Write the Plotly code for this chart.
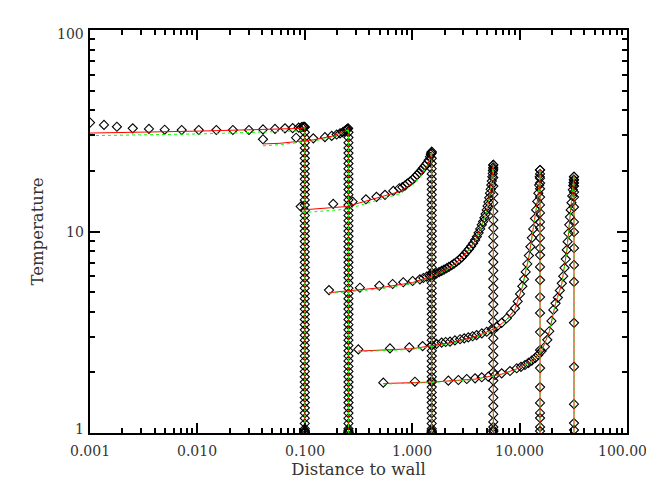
import plotly.graph_objects as go

# ---------------- data ----------------
# profile 1
p1_x = [0.001, 0.00135, 0.00178, 0.0025, 0.00354, 0.00496, 0.00714, 0.0103, 0.015, 0.0214,
        0.0302, 0.0408, 0.0528, 0.0654, 0.0771, 0.0877, 0.0935, 0.0965, 0.0985, 0.0995]
p1_T = [34.7, 33.8, 33.1, 32.5, 32.3, 32.0, 31.9, 31.9, 31.9, 31.9,
        31.9, 32.1, 32.3, 32.5, 32.6, 32.8, 33.0, 33.1, 33.1, 33.0]
# profile 2
p2_x = [0.0408, 0.083, 0.12, 0.154, 0.178, 0.198, 0.213, 0.225, 0.234, 0.241, 0.246, 0.25, 0.253]
p2_T = [28.7, 29.2, 29.0, 29.4, 29.8, 30.3, 30.7, 31.1, 31.5, 31.8, 32.1, 32.3, 32.5]
# profile 3
p3_x = [0.0916, 0.184, 0.279, 0.371, 0.465, 0.558, 0.667, 0.759, 0.81, 0.857, 0.9, 0.955, 1.01,
        1.06, 1.11, 1.165, 1.21, 1.253, 1.31, 1.365, 1.42, 1.466, 1.49, 1.51, 1.52]
p3_T = [13.3, 13.7, 14.06, 14.45, 14.86, 15.2, 15.9, 16.4, 16.6, 16.9, 17.3, 17.7, 18.1,
        18.6, 19.1, 19.6, 20.1, 20.6, 21.2, 21.8, 22.6, 23.5, 24.2, 24.6, 24.9]
# profile 4
p4_x = [0.168, 0.326, 0.494, 0.658, 0.826, 1.01, 1.18, 1.27, 1.365, 1.45, 1.52, 1.6, 1.69, 1.78,
        1.88, 1.98, 2.09, 2.2, 2.33, 2.45, 2.59, 2.74, 2.9, 3.05, 3.22, 3.38, 3.53, 3.69, 3.85,
        4.0, 4.15, 4.3, 4.44, 4.57, 4.7, 4.82, 4.94, 5.03, 5.12, 5.21, 5.30, 5.38, 5.45, 5.51,
        5.57, 5.62, 5.65, 5.68, 5.69]
p4_T = [5.12, 5.26, 5.38, 5.49, 5.60, 5.68, 5.79, 5.88, 5.97, 6.02, 6.08, 6.14, 6.20, 6.29,
        6.38, 6.47, 6.57, 6.68, 6.80, 6.93, 7.08, 7.25, 7.45, 7.68, 7.94, 8.18, 8.45, 8.74, 9.07,
        9.43, 9.85, 10.3, 10.8, 11.2, 11.7, 12.2, 12.8, 13.4, 14.0, 14.7, 15.5, 16.2, 17.0, 17.8,
        18.7, 19.4, 20.0, 20.8, 21.4]
# profile 5
p5_x = [0.315, 0.621, 0.94, 1.25, 1.52, 1.68, 1.88, 2.05, 2.25, 2.5, 2.79, 3.05, 3.33, 3.65,
        3.98, 4.45, 4.94, 5.5, 6.12, 6.8, 7.59, 8.3, 9.06, 9.6, 10.1, 10.6, 11.0, 11.4, 11.8,
        12.2, 12.6, 13.0, 13.4, 13.9, 14.25, 14.6, 14.95, 15.2, 15.4, 15.5]
p5_T = [2.60, 2.63, 2.66, 2.70, 2.73, 2.77, 2.81, 2.83, 2.84, 2.88, 2.92, 2.95, 2.98, 3.02,
        3.06, 3.12, 3.18, 3.27, 3.37, 3.52, 3.71, 3.93, 4.16, 4.5, 4.9, 5.35, 5.8, 6.3, 6.9,
        7.6, 8.4, 9.3, 10.3, 11.6, 12.8, 14.1, 15.5, 17.0, 18.7, 20.2]
# profile 6
p6_x = [0.538, 1.06, 1.52, 2.17, 2.69, 3.22, 3.85, 4.44, 5.11, 5.90, 6.81, 8.14, 9.40, 10.3,
        11.22, 12.1, 12.97, 14.0, 14.93, 16.0, 17.24, 18.1, 18.9, 19.8, 20.6, 21.6, 22.7, 23.7,
        24.7, 25.5, 26.2, 26.9, 27.5, 28.0, 28.5, 29.0, 29.4, 29.9, 30.4, 30.9, 31.3, 31.6,
        31.8, 32.0, 32.1]
p6_T = [1.777, 1.797, 1.811, 1.818, 1.832, 1.853, 1.868, 1.89, 1.903, 1.94, 1.978, 2.03, 2.095,
        2.13, 2.175, 2.23, 2.285, 2.36, 2.44, 2.55, 2.68, 2.9, 3.2, 3.6, 4.08, 4.4, 4.7, 5.1,
        5.53, 6.0, 6.6, 7.3, 8.1, 8.9, 9.8, 10.8, 11.8, 12.8, 13.9, 15.0, 16.1, 16.9,
        17.5, 18.1, 18.7]

# positions of the vertical drops
wall_x = [0.1, 0.255, 1.52, 5.69, 15.5, 32.1]

# temperatures of the diamonds stacked on each vertical drop
col_dense_T = [32.96, 31.06, 29.27, 27.58, 25.99, 24.49, 23.08, 21.75, 20.49, 19.31, 18.20,
               17.15, 16.16, 15.23, 14.35, 13.52, 12.74, 12.01, 11.31, 10.66, 10.05, 9.47,
               8.92, 8.41, 7.92, 7.46, 7.03, 6.63, 6.25, 5.89, 5.55, 5.23, 4.92, 4.64, 4.37,
               4.12, 3.88, 3.66, 3.45, 3.25, 3.06, 2.89, 2.72, 2.56, 2.41, 2.28, 2.14, 2.02,
               1.90, 1.79, 1.69, 1.59, 1.50, 1.415, 1.333, 1.256, 1.184, 1.115, 1.051, 1.03,
               1.015, 1.008, 1.003]
col4_T = [21.4, 20.4, 18.5, 16.8, 15.3, 13.9, 12.6, 11.4, 10.4, 9.42, 8.55, 7.76, 7.05, 6.40,
          5.81, 5.27, 4.79, 4.35, 3.94, 3.58, 3.25, 2.95, 2.68, 2.43, 2.21, 2.00, 1.82, 1.65,
          1.50, 1.36, 1.24, 1.135, 1.07, 1.035, 1.016]
col5_T = [20.2, 19.3, 18.4, 17.4, 16.3, 14.83, 13.54, 12.36, 11.15, 10.41, 9.29, 8.28, 7.64,
          6.67, 5.74, 4.73, 3.94, 3.17, 2.58, 2.10, 1.69, 1.41, 1.257, 1.187, 1.071, 1.023]
col6_T = [18.7, 18.0, 17.4, 16.8, 15.7, 14.83, 13.23, 11.15, 9.94, 8.28, 6.82, 5.62, 3.52,
          2.13, 1.39, 1.12, 1.035]

# model curves (red solid) and second model (green dotted)
red1_x = [0.001, 0.0105, 0.0955, 0.1];          red1_T = [30.8, 31.5, 32.5, 33.1]
grn1_x = [0.001, 0.0105, 0.0935, 0.1];          grn1_T = [29.9, 30.5, 31.6, 33.0]
red2_x = [0.0408, 0.0588, 0.12, 0.184, 0.24, 0.255]; red2_T = [27.2, 27.4, 28.5, 29.8, 31.7, 32.5]
grn2_x = [0.0408, 0.0588, 0.12, 0.184, 0.24, 0.255]; grn2_T = [26.6, 27.0, 28.1, 29.4, 31.4, 32.4]
red3_x = [0.095, 0.245, 0.77, 1.0, 1.2, 1.4, 1.52]; red3_T = [12.8, 13.3, 15.8, 17.3, 19.0, 21.5, 24.9]
grn3_x = [0.095, 0.245, 0.77, 1.0, 1.2, 1.4, 1.52]; grn3_T = [12.4, 12.9, 15.4, 17.0, 18.8, 21.3, 24.8]
red4_x = [0.168, 0.494, 1.01, 1.52, 2.09, 2.59, 3.22, 3.85, 4.44, 4.94, 5.30, 5.57, 5.69]
red4_T = [4.97, 5.25, 5.58, 6.0, 6.5, 7.02, 7.88, 9.0, 10.7, 12.7, 15.4, 18.6, 21.4]
grn4_x = [0.168, 0.494, 1.01, 1.52, 2.09, 2.59, 3.22, 3.85, 4.44, 4.94, 5.30, 5.57, 5.69]
grn4_T = [4.93, 5.18, 5.5, 5.92, 6.42, 6.93, 7.78, 8.9, 10.6, 12.6, 15.3, 18.5, 21.3]
red5_x = [0.315, 1.0, 2.25, 3.98, 6.12, 7.59, 9.06, 10.6, 12.2, 13.4, 14.6, 15.2, 15.5]
red5_T = [2.55, 2.62, 2.80, 3.02, 3.33, 3.66, 4.12, 5.3, 7.5, 10.2, 14.0, 17.0, 20.4]
grn5_x = [0.315, 1.0, 2.25, 3.98, 6.12, 7.59, 9.06, 10.6, 12.2, 13.4, 14.6, 15.2, 15.5]
grn5_T = [2.53, 2.60, 2.77, 2.99, 3.30, 3.62, 4.07, 5.25, 7.4, 10.1, 13.9, 16.9, 20.3]
red6_x = [0.538, 1.52, 3.85, 6.81, 9.40, 12.97, 16.0, 18.9, 21.6, 24.7, 27.5, 29.4, 31.3, 32.1]
red6_T = [1.76, 1.79, 1.85, 1.96, 2.08, 2.27, 2.54, 3.18, 4.4, 5.5, 8.0, 11.7, 16.0, 19.0]
grn6_x = red6_x
grn6_T = [1.75, 1.78, 1.84, 1.95, 2.07, 2.26, 2.53, 3.16, 4.37, 5.47, 7.95, 11.6, 15.9, 19.0]

# axis ticks
x_ticklog = [-3, -2, -1, 0, 1, 2]
x_ticktext = ["0.001", "0.010", "0.100", "1.000", "10.000", "100.000"]
y_ticklog = [0, 1, 2]
y_ticktext = ["1", "10", "100"]
y_tickshift = [4, 0, -4]
floor_T = 0.95

# ---------------- figure ----------------
fig = go.Figure()

profiles = [(p1_x, p1_T), (p2_x, p2_T), (p3_x, p3_T), (p4_x, p4_T), (p5_x, p5_T), (p6_x, p6_T)]
columns = [col_dense_T, col_dense_T[1:], col_dense_T[5:], col4_T, col5_T, col6_T]
reds = [(red1_x, red1_T), (red2_x, red2_T), (red3_x, red3_T), (red4_x, red4_T), (red5_x, red5_T), (red6_x, red6_T)]
grns = [(grn1_x, grn1_T), (grn2_x, grn2_T), (grn3_x, grn3_T), (grn4_x, grn4_T), (grn5_x, grn5_T), (grn6_x, grn6_T)]

marker = dict(symbol="diamond-open", size=7, color="black", line=dict(width=1.1, color="black"))

for (px, pT), cT, xw in zip(profiles, columns, wall_x):
    fig.add_trace(go.Scatter(x=px + [xw] * len(cT), y=pT + cT, mode="markers",
                             marker=marker, hoverinfo="skip", showlegend=False))

for (rx, rT), xw in zip(reds, wall_x):
    fig.add_trace(go.Scatter(x=rx + [xw], y=rT + [floor_T], mode="lines",
                             line=dict(color="rgb(255,0,0)", width=1), showlegend=False))
for (gx, gT), xw in zip(grns, wall_x):
    fig.add_trace(go.Scatter(x=gx + [xw], y=gT + [floor_T], mode="lines",
                             line=dict(color="rgb(0,255,0)", width=1, dash="dot"), showlegend=False))

tick_font = dict(family="DejaVu Serif", size=14, color="#333")
title_font = dict(family="DejaVu Serif", size=16.5, color="#333")
axis_common = dict(type="log", showgrid=False, zeroline=False, showline=True, linecolor="black",
                   linewidth=2, mirror="ticks", ticks="inside", tickcolor="black", tickwidth=1.5,
                   ticklen=10, showticklabels=False,
                   minor=dict(ticks="inside", ticklen=5, tickcolor="black", tickwidth=1.5, dtick="D1"))
fig.update_xaxes(**axis_common, range=[-3, 2], tickvals=[10 ** v for v in x_ticklog],
                 title=dict(text="Distance to wall", font=title_font, standoff=29))
fig.update_yaxes(**axis_common, range=[0, 2], tickvals=[10 ** v for v in y_ticklog],
                 title=dict(text="Temperature", font=title_font, standoff=40))

for lab, lv in zip(x_ticktext, x_ticklog):
    fig.add_annotation(text=lab, xref="x", x=lv, xanchor="center",
                       yref="paper", y=0, yanchor="top", yshift=-8, showarrow=False,
                       font=tick_font)
for lab, lv, sh in zip(y_ticktext, y_ticklog, y_tickshift):
    fig.add_annotation(text=lab, xref="paper", x=0, xanchor="right", xshift=-4,
                       yref="y", y=lv, yanchor="middle", yshift=sh, showarrow=False,
                       font=tick_font)

# the page adds an 8px body margin, so the figure is 8px smaller than the window
fig.update_layout(width=646, height=483, margin=dict(l=82, r=27, t=22, b=58, autoexpand=False),
                  paper_bgcolor="white", plot_bgcolor="white", showlegend=False)

fig.write_html("out.html")
